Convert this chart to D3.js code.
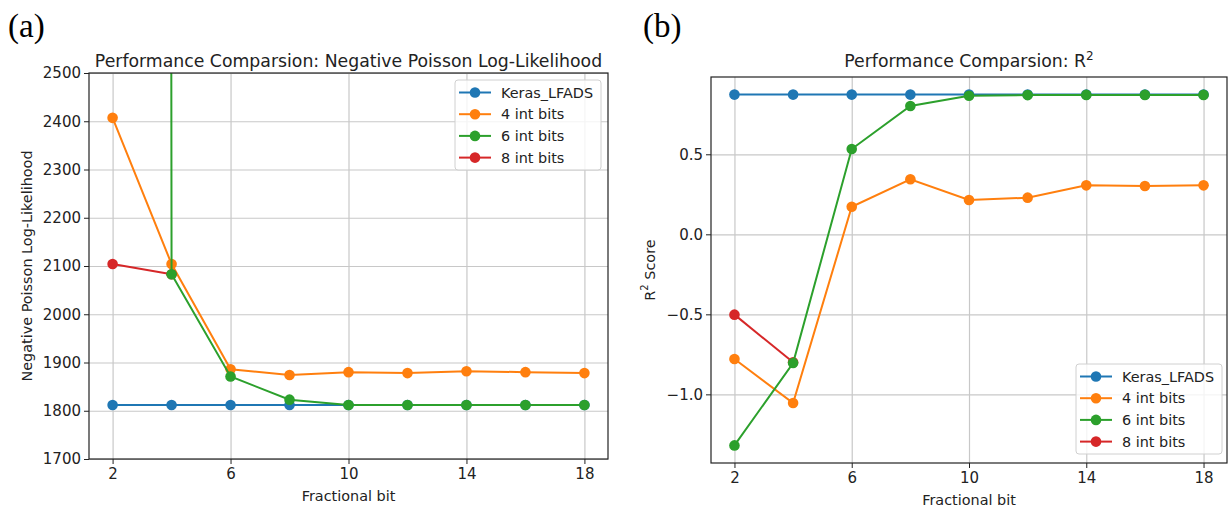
<!DOCTYPE html>
<html>
<head>
<meta charset="utf-8">
<title>fixed-point comparison</title>
<script src="https://d3js.org/d3.v7.min.js"></script>
<style>
  body { margin: 0; background: #fff; }
  svg { display: block; font-family: "DejaVu Sans", sans-serif; }
  .grid line { stroke: #c8c8c8; stroke-width: 1.2; }
  .grid path { display: none; }
  .axis text { font-size: 15px; fill: #222; font-family: "DejaVu Sans", sans-serif; }
  .axis path, .axis line { stroke: #222; stroke-width: 1; }
  .lbl { font-size: 14.4px; fill: #222; }
  .ttl { font-size: 17.3px; fill: #222; }
  .panel { font-family: "Liberation Serif", "Times New Roman", serif; font-size: 33px; fill: #000; }
</style>
</head>
<body>
<script>
// x values (fractional bits) and the shown ticks
var fracBits = [2, 4, 6, 8, 10, 12, 14, 16, 18];
var xTicks = [2, 6, 10, 14, 18];
var seriesNames = ["Keras_LFADS", "4 int bits", "6 int bits", "8 int bits"];
var colors = ["#1f77b4", "#ff7f0e", "#2ca02c", "#d62728"];

// (a) negative poisson log-likelihood
var nllKeras = [1812, 1812, 1812, 1812, 1812, 1812, 1812, 1812, 1812];
var nll4 = [2407, 2104, 1886, 1874, 1880, 1878, 1882, 1880, 1878];
var nll6 = [100000, 2083, 1871, 1823, 1812, 1812, 1812, 1812, 1812]; // x=2 far off the chart
var nll8 = [2104, 2083, null, null, null, null, null, null, null];
var nllTicks = [1700, 1800, 1900, 2000, 2100, 2200, 2300, 2400, 2500];

// (b) R^2 score
var r2Keras = [0.873, 0.873, 0.873, 0.873, 0.873, 0.873, 0.873, 0.873, 0.873];
var r2_4 = [-0.779, -1.054, 0.172, 0.344, 0.214, 0.229, 0.306, 0.302, 0.306];
var r2_6 = [-1.319, -0.804, 0.533, 0.802, 0.866, 0.870, 0.871, 0.871, 0.871];
var r2_8 = [-0.502, -0.80, null, null, null, null, null, null, null];
var r2Ticks = [-1.0, -0.5, 0.0, 0.5];

var svg = d3.select("body").append("svg")
  .attr("width", 1228)
  .attr("height", 512);

function drawPanel(p) {
  var x = d3.scaleLinear().domain([1.2, 18.8]).range([p.left, p.right]);
  var y = d3.scaleLinear().domain(p.yDomain).range([p.bottom, p.top]);
  var g = svg.append("g");

  var clipId = "clip" + p.id;
  g.append("clipPath").attr("id", clipId)
    .append("rect")
      .attr("x", p.left).attr("y", p.top)
      .attr("width", p.right - p.left).attr("height", p.bottom - p.top);

  // grid
  g.append("g").attr("class", "grid")
    .attr("transform", "translate(0," + p.bottom + ")")
    .call(d3.axisBottom(x).tickValues(xTicks).tickSize(-(p.bottom - p.top)).tickFormat(""));
  g.append("g").attr("class", "grid")
    .attr("transform", "translate(" + p.left + ",0)")
    .call(d3.axisLeft(y).tickValues(p.yTicks).tickSize(-(p.right - p.left)).tickFormat(""));

  // series, red drawn under green like in the picture
  var order = [0, 1, 3, 2];
  var plot = g.append("g").attr("clip-path", "url(#" + clipId + ")");
  order.forEach(function(i) {
    var vals = p.series[i];
    var pts = fracBits.map(function(b, j) { return {x: b, y: vals[j]}; });
    var line = d3.line()
      .defined(function(d) { return d.y != null; })
      .x(function(d) { return x(d.x); })
      .y(function(d) { return y(d.y); });
    plot.append("path")
      .datum(pts)
      .attr("d", line)
      .attr("fill", "none")
      .attr("stroke", colors[i])
      .attr("stroke-width", 2);
    plot.selectAll(null)
      .data(pts.filter(function(d) { return d.y != null; }))
      .enter().append("circle")
        .attr("cx", function(d) { return x(d.x); })
        .attr("cy", function(d) { return y(d.y); })
        .attr("r", 5.3)
        .attr("fill", colors[i]);
  });

  // frame
  g.append("rect")
    .attr("x", p.left).attr("y", p.top)
    .attr("width", p.right - p.left).attr("height", p.bottom - p.top)
    .attr("fill", "none").attr("stroke", "#222").attr("stroke-width", 1.2);

  // axes
  var xa = g.append("g").attr("class", "axis")
    .attr("transform", "translate(0," + p.bottom + ")")
    .call(d3.axisBottom(x).tickValues(xTicks).tickSize(5).tickPadding(4).tickFormat(d3.format("d")));
  xa.select(".domain").remove();
  var ya = g.append("g").attr("class", "axis")
    .attr("transform", "translate(" + p.left + ",0)")
    .call(d3.axisLeft(y).tickValues(p.yTicks).tickSize(5).tickPadding(3).tickFormat(p.yFormat));
  ya.select(".domain").remove();

  // labels
  g.append("text").attr("class", "lbl")
    .attr("x", (p.left + p.right) / 2).attr("y", p.bottom + 42)
    .attr("text-anchor", "middle")
    .text("Fractional bit");

  var yl = g.append("text").attr("class", "lbl")
    .attr("transform", "translate(" + p.yLabelX + "," + (p.top + p.bottom) / 2 + ") rotate(-90)")
    .attr("text-anchor", "middle")
    .attr("dominant-baseline", "central");
  p.yLabel(yl);

  var tt = g.append("text").attr("class", "ttl")
    .attr("x", (p.left + p.right) / 2).attr("y", 67)
    .attr("text-anchor", "middle");
  p.title(tt);

  g.append("text").attr("class", "panel")
    .attr("x", p.tagX).attr("y", 37)
    .text(p.tag);

  // legend
  var lg = g.append("g").attr("transform", "translate(" + p.legX + "," + p.legY + ")");
  lg.append("rect")
    .attr("width", 146).attr("height", 90).attr("rx", 3)
    .attr("fill", "#fff").attr("fill-opacity", 0.8)
    .attr("stroke", "#d0d0d0");
  seriesNames.forEach(function(name, i) {
    var ry = 12.5 + i * 21.7;
    lg.append("line")
      .attr("x1", 4).attr("x2", 36).attr("y1", ry).attr("y2", ry)
      .attr("stroke", colors[i]).attr("stroke-width", 2);
    lg.append("circle").attr("cx", 20).attr("cy", ry).attr("r", 5.3).attr("fill", colors[i]);
    lg.append("text").attr("class", "lbl")
      .attr("x", 46).attr("y", ry).attr("dominant-baseline", "central")
      .text(name);
  });
}

drawPanel({
  id: "a", tag: "(a)", tagX: 8,
  left: 89, right: 608, top: 73, bottom: 459,
  yDomain: [1700, 2500], yTicks: nllTicks, yFormat: d3.format("d"),
  series: [nllKeras, nll4, nll6, nll8],
  yLabelX: 27,
  yLabel: function(t) { t.text("Negative Poisson Log-Likelihood"); },
  title: function(t) { t.text("Performance Comparsion: Negative Poisson Log-Likelihood"); },
  legX: 455, legY: 80
});

drawPanel({
  id: "b", tag: "(b)", tagX: 643,
  left: 711, right: 1227, top: 77, bottom: 463,
  yDomain: [-1.429, 0.983], yTicks: r2Ticks, yFormat: d3.format(".1f"),
  series: [r2Keras, r2_4, r2_6, r2_8],
  yLabelX: 650,
  yLabel: function(t) {
    t.append("tspan").text("R");
    t.append("tspan").attr("font-size", "10px").attr("dy", -6).text("2");
    t.append("tspan").attr("dy", 6).text(" Score");
  },
  title: function(t) {
    t.append("tspan").text("Performance Comparsion: R");
    t.append("tspan").attr("font-size", "12px").attr("dy", -7).text("2");
  },
  legX: 1076, legY: 364
});
</script>
</body>
</html>
